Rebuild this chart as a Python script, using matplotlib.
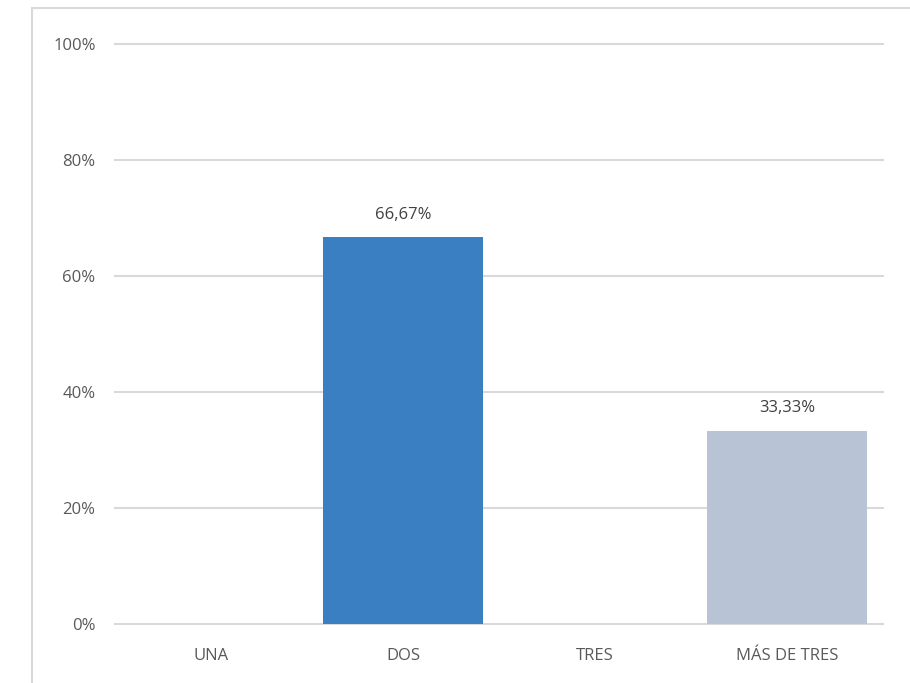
import matplotlib
matplotlib.use("Agg")
import matplotlib.pyplot as plt
from matplotlib.patches import Rectangle

categories = ["UNA", "DOS", "TRES", "MÁS DE TRES"]
values = [0.0, 66.67, 0.0, 33.33]
bar_colors = ["#3A7FC1", "#3A7FC1", "#B8C4D6", "#B8C4D6"]
value_labels = ["", "66,67%", "", "33,33%"]
y_ticks = [0, 20, 40, 60, 80, 100]
y_tick_labels = ["0%", "20%", "40%", "60%", "80%", "100%"]

plt.rcParams['font.family'] = ['Open Sans', 'DejaVu Sans']

W, H = 910, 683
fig = plt.figure(figsize=(W / 100, H / 100), dpi=100)
ax = fig.add_axes([115 / W, 1 - 624 / H, (883 - 115) / W, (624 - 44) / H])

# outer border (partially cut off on right and bottom)
fig.patches.append(Rectangle((32 / W, -0.1), 1.2, 1 - 8 / H + 0.1,
                             transform=fig.transFigure, fill=False,
                             edgecolor="#D9D9D9", linewidth=1.5, zorder=0))

x = list(range(len(categories)))
ax.bar(x, values, width=0.833, color=bar_colors, zorder=3)

for xi, v, lab in zip(x, values, value_labels):
    if lab:
        ax.annotate(lab, (xi, v), xytext=(0, 10.5), textcoords="offset points",
                    ha="center", va="bottom", fontsize=12, color="#404040")

ax.set_xlim(-0.5, 3.5)
ax.set_ylim(0, 100)
ax.set_yticks(y_ticks)
ax.set_yticklabels(y_tick_labels)
ax.set_xticks(x)
ax.set_xticklabels(categories)
ax.grid(axis="y", color="#D9D9D9", linewidth=1.5, zorder=0)
for gl in ax.get_ygridlines():
    gl.set_clip_on(False)
ax.set_axisbelow(True)
for s in ax.spines.values():
    s.set_visible(False)
ax.tick_params(axis="both", length=0, labelsize=12, labelcolor="#595959")
ax.tick_params(axis="y", pad=14)
ax.tick_params(axis="x", pad=17)

fig.savefig("out.png", dpi=100)
